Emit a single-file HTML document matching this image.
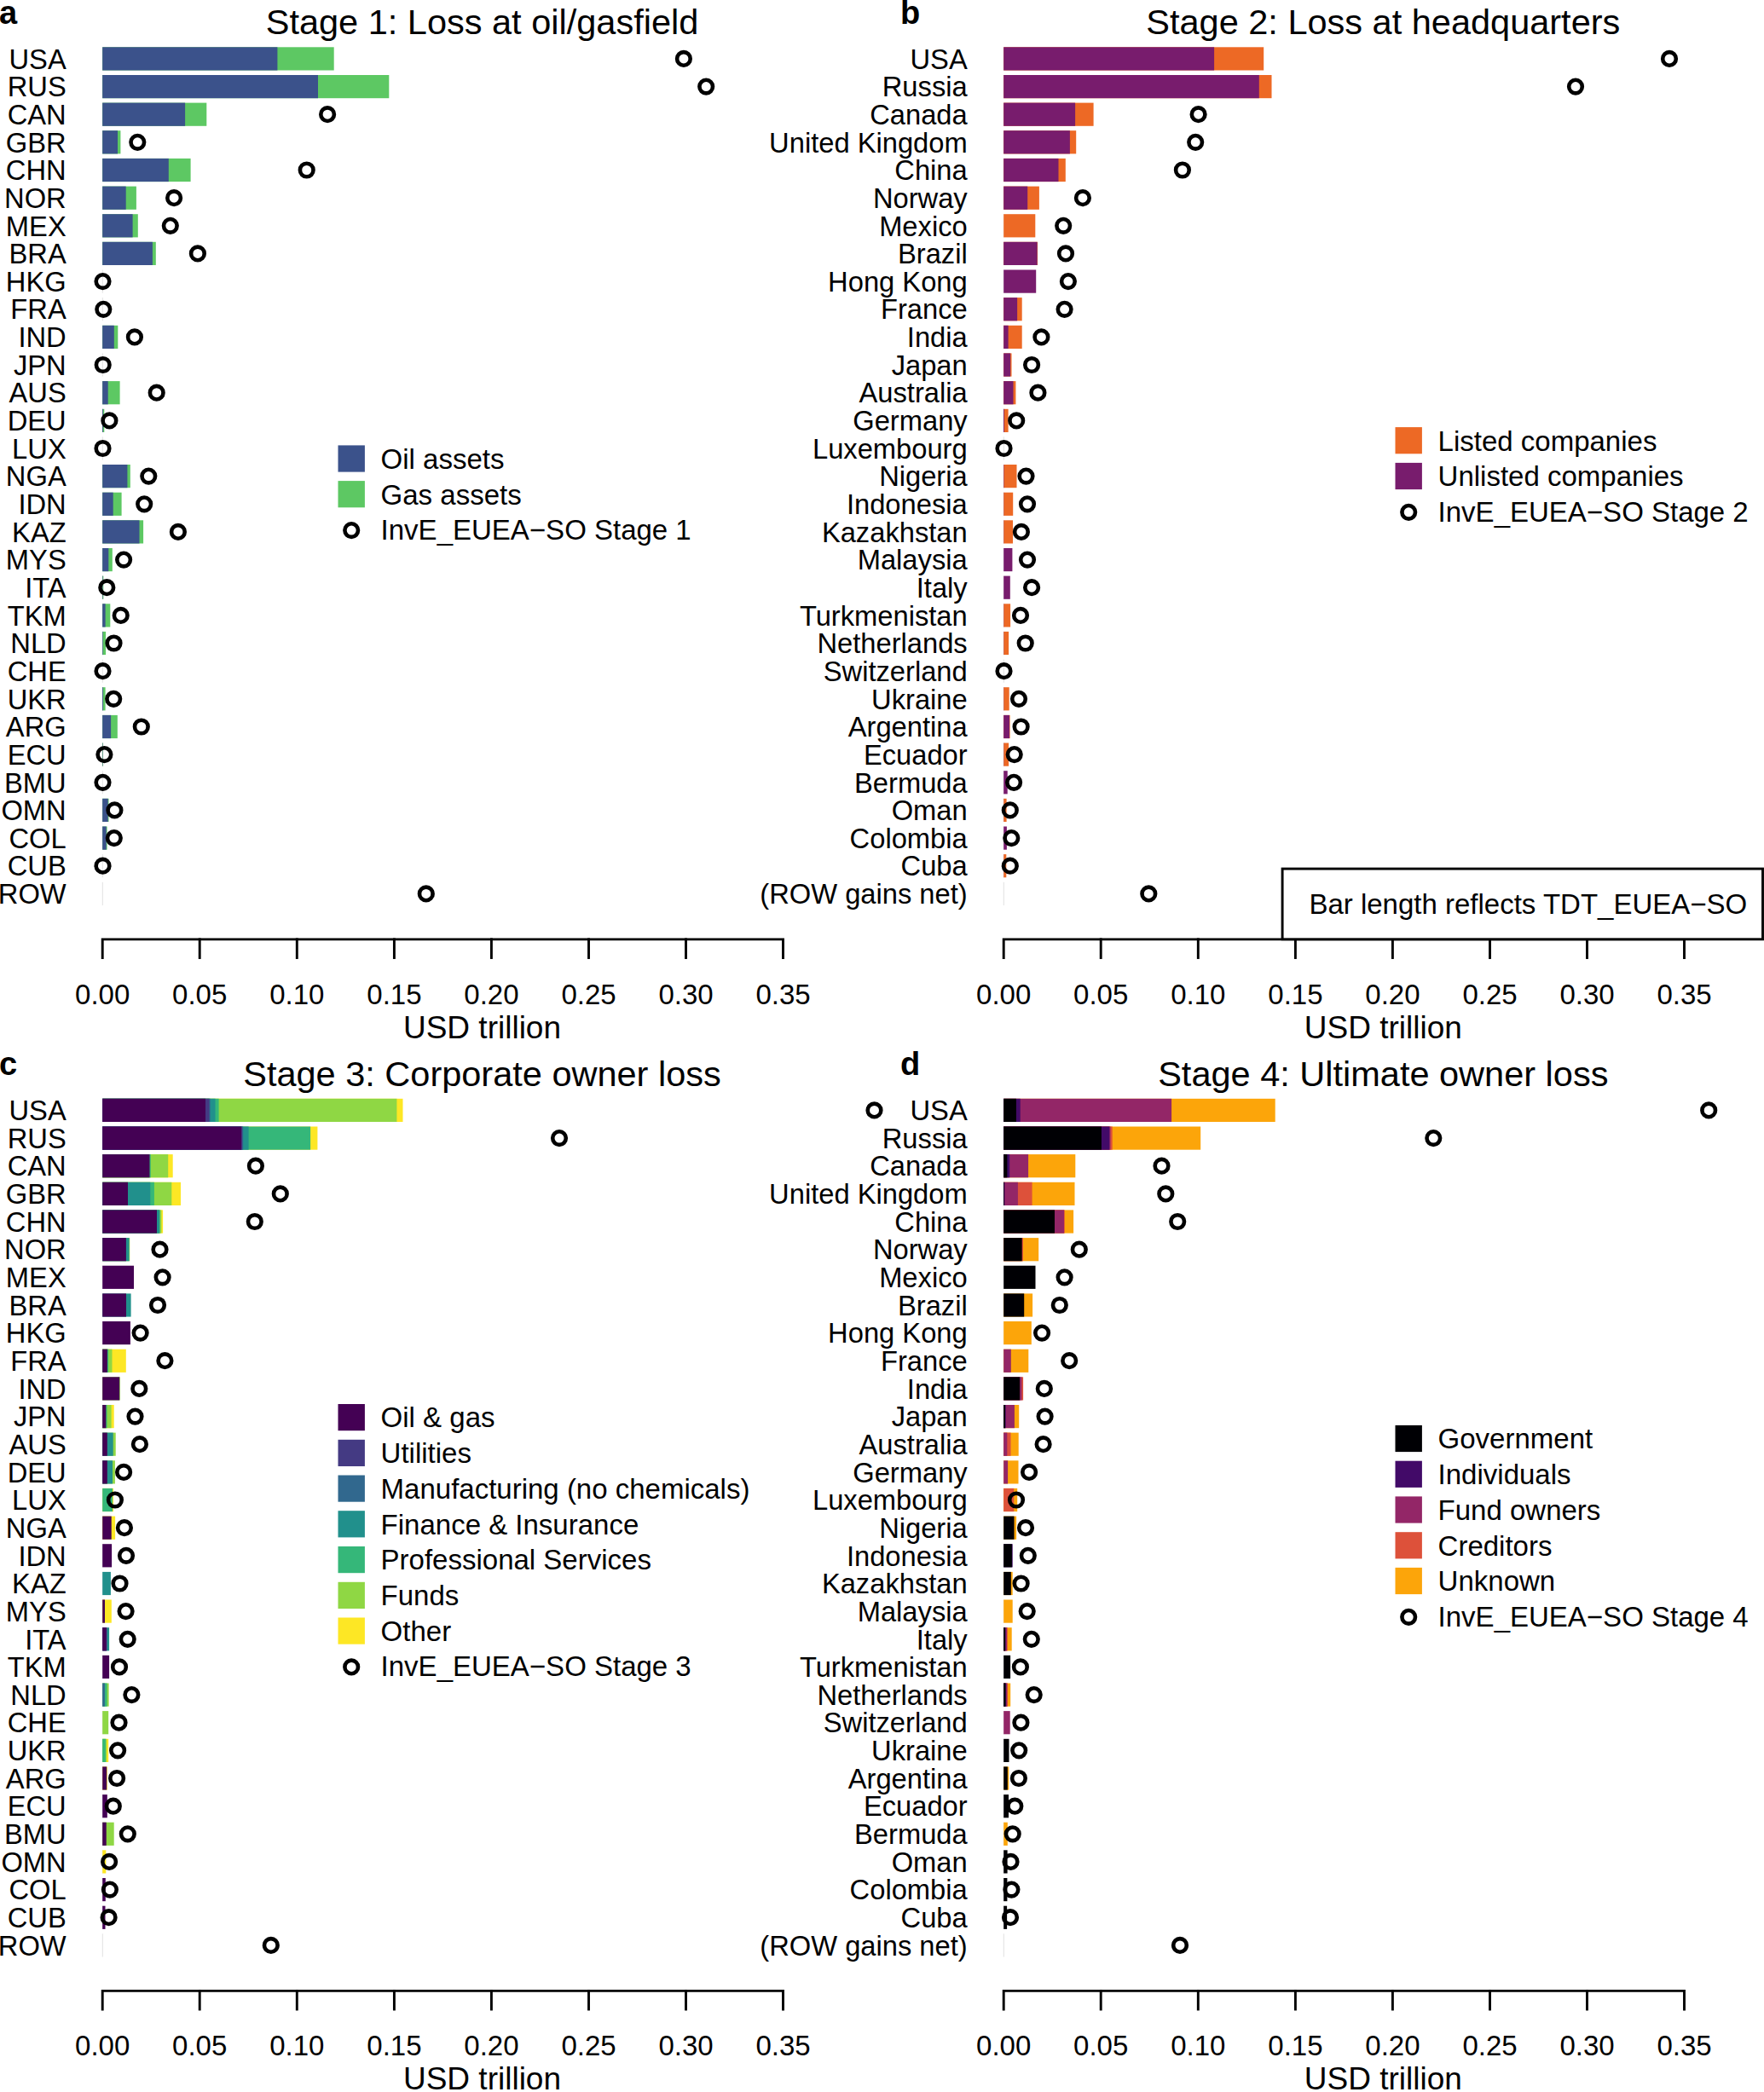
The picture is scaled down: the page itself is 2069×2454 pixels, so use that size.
<!DOCTYPE html>
<html><head><meta charset="utf-8"><title>Stranded assets by stage</title>
<style>
html,body{margin:0;padding:0;background:#fff}
svg{display:block}
text{font-family:"Liberation Sans",sans-serif;font-size:33px;fill:#000}
</style></head><body>
<svg width="2069" height="2454" viewBox="0 0 2069 2454">
<rect width="2069" height="2454" fill="#fff"/>
<text x="-1" y="27.5" style="font-size:38px;font-weight:bold">a</text>
<text x="565.5" y="40.0" style="font-size:41.5px" text-anchor="middle">Stage 1: Loss at oil/gasfield</text>
<text x="77.7" y="80.6" text-anchor="end" style="font-size:32.7px">USA</text>
<text x="77.7" y="113.3" text-anchor="end" style="font-size:32.7px">RUS</text>
<text x="77.7" y="145.9" text-anchor="end" style="font-size:32.7px">CAN</text>
<text x="77.7" y="178.5" text-anchor="end" style="font-size:32.7px">GBR</text>
<text x="77.7" y="211.2" text-anchor="end" style="font-size:32.7px">CHN</text>
<text x="77.7" y="243.8" text-anchor="end" style="font-size:32.7px">NOR</text>
<text x="77.7" y="276.5" text-anchor="end" style="font-size:32.7px">MEX</text>
<text x="77.7" y="309.1" text-anchor="end" style="font-size:32.7px">BRA</text>
<text x="77.7" y="341.8" text-anchor="end" style="font-size:32.7px">HKG</text>
<text x="77.7" y="374.4" text-anchor="end" style="font-size:32.7px">FRA</text>
<text x="77.7" y="407.1" text-anchor="end" style="font-size:32.7px">IND</text>
<text x="77.7" y="439.7" text-anchor="end" style="font-size:32.7px">JPN</text>
<text x="77.7" y="472.4" text-anchor="end" style="font-size:32.7px">AUS</text>
<text x="77.7" y="505.1" text-anchor="end" style="font-size:32.7px">DEU</text>
<text x="77.7" y="537.7" text-anchor="end" style="font-size:32.7px">LUX</text>
<text x="77.7" y="570.4" text-anchor="end" style="font-size:32.7px">NGA</text>
<text x="77.7" y="603.0" text-anchor="end" style="font-size:32.7px">IDN</text>
<text x="77.7" y="635.6" text-anchor="end" style="font-size:32.7px">KAZ</text>
<text x="77.7" y="668.3" text-anchor="end" style="font-size:32.7px">MYS</text>
<text x="77.7" y="701.0" text-anchor="end" style="font-size:32.7px">ITA</text>
<text x="77.7" y="733.6" text-anchor="end" style="font-size:32.7px">TKM</text>
<text x="77.7" y="766.2" text-anchor="end" style="font-size:32.7px">NLD</text>
<text x="77.7" y="798.9" text-anchor="end" style="font-size:32.7px">CHE</text>
<text x="77.7" y="831.5" text-anchor="end" style="font-size:32.7px">UKR</text>
<text x="77.7" y="864.2" text-anchor="end" style="font-size:32.7px">ARG</text>
<text x="77.7" y="896.9" text-anchor="end" style="font-size:32.7px">ECU</text>
<text x="77.7" y="929.5" text-anchor="end" style="font-size:32.7px">BMU</text>
<text x="77.7" y="962.1" text-anchor="end" style="font-size:32.7px">OMN</text>
<text x="77.7" y="994.8" text-anchor="end" style="font-size:32.7px">COL</text>
<text x="77.7" y="1027.4" text-anchor="end" style="font-size:32.7px">CUB</text>
<text x="77.7" y="1060.1" text-anchor="end" style="font-size:32.7px">ROW</text>
<rect x="119.85" y="55.3" width="0.7" height="27.2" fill="#d4d4d4"/>
<rect x="119.85" y="88.0" width="0.7" height="27.2" fill="#d4d4d4"/>
<rect x="119.85" y="120.6" width="0.7" height="27.2" fill="#d4d4d4"/>
<rect x="119.85" y="153.2" width="0.7" height="27.2" fill="#d4d4d4"/>
<rect x="119.85" y="185.9" width="0.7" height="27.2" fill="#d4d4d4"/>
<rect x="119.85" y="218.6" width="0.7" height="27.2" fill="#d4d4d4"/>
<rect x="119.85" y="251.2" width="0.7" height="27.2" fill="#d4d4d4"/>
<rect x="119.85" y="283.8" width="0.7" height="27.2" fill="#d4d4d4"/>
<rect x="119.85" y="316.5" width="0.7" height="27.2" fill="#d4d4d4"/>
<rect x="119.85" y="349.1" width="0.7" height="27.2" fill="#d4d4d4"/>
<rect x="119.85" y="381.8" width="0.7" height="27.2" fill="#d4d4d4"/>
<rect x="119.85" y="414.4" width="0.7" height="27.2" fill="#d4d4d4"/>
<rect x="119.85" y="447.1" width="0.7" height="27.2" fill="#d4d4d4"/>
<rect x="119.85" y="479.8" width="0.7" height="27.2" fill="#d4d4d4"/>
<rect x="119.85" y="512.4" width="0.7" height="27.2" fill="#d4d4d4"/>
<rect x="119.85" y="545.0" width="0.7" height="27.2" fill="#d4d4d4"/>
<rect x="119.85" y="577.7" width="0.7" height="27.2" fill="#d4d4d4"/>
<rect x="119.85" y="610.3" width="0.7" height="27.2" fill="#d4d4d4"/>
<rect x="119.85" y="643.0" width="0.7" height="27.2" fill="#d4d4d4"/>
<rect x="119.85" y="675.6" width="0.7" height="27.2" fill="#d4d4d4"/>
<rect x="119.85" y="708.3" width="0.7" height="27.2" fill="#d4d4d4"/>
<rect x="119.85" y="740.9" width="0.7" height="27.2" fill="#d4d4d4"/>
<rect x="119.85" y="773.6" width="0.7" height="27.2" fill="#d4d4d4"/>
<rect x="119.85" y="806.2" width="0.7" height="27.2" fill="#d4d4d4"/>
<rect x="119.85" y="838.9" width="0.7" height="27.2" fill="#d4d4d4"/>
<rect x="119.85" y="871.5" width="0.7" height="27.2" fill="#d4d4d4"/>
<rect x="119.85" y="904.2" width="0.7" height="27.2" fill="#d4d4d4"/>
<rect x="119.85" y="936.8" width="0.7" height="27.2" fill="#d4d4d4"/>
<rect x="119.85" y="969.5" width="0.7" height="27.2" fill="#d4d4d4"/>
<rect x="119.85" y="1002.1" width="0.7" height="27.2" fill="#d4d4d4"/>
<rect x="119.85" y="1034.8" width="0.7" height="27.2" fill="#d4d4d4"/>
<rect x="120.2" y="55.3" width="271.5" height="27.2" fill="#5DC863"/>
<rect x="120.2" y="55.3" width="205.2" height="27.2" fill="#3B528B"/>
<rect x="120.2" y="88.0" width="336.1" height="27.2" fill="#5DC863"/>
<rect x="120.2" y="88.0" width="252.8" height="27.2" fill="#3B528B"/>
<rect x="120.2" y="120.6" width="122.1" height="27.2" fill="#5DC863"/>
<rect x="120.2" y="120.6" width="96.9" height="27.2" fill="#3B528B"/>
<rect x="120.2" y="153.2" width="21.2" height="27.2" fill="#5DC863"/>
<rect x="120.2" y="153.2" width="17.8" height="27.2" fill="#3B528B"/>
<rect x="120.2" y="185.9" width="103.4" height="27.2" fill="#5DC863"/>
<rect x="120.2" y="185.9" width="77.6" height="27.2" fill="#3B528B"/>
<rect x="120.2" y="218.6" width="39.7" height="27.2" fill="#5DC863"/>
<rect x="120.2" y="218.6" width="27.5" height="27.2" fill="#3B528B"/>
<rect x="120.2" y="251.2" width="41.6" height="27.2" fill="#5DC863"/>
<rect x="120.2" y="251.2" width="35.4" height="27.2" fill="#3B528B"/>
<rect x="120.2" y="283.8" width="62.6" height="27.2" fill="#5DC863"/>
<rect x="120.2" y="283.8" width="58.7" height="27.2" fill="#3B528B"/>
<rect x="120.2" y="381.8" width="18.1" height="27.2" fill="#5DC863"/>
<rect x="120.2" y="381.8" width="13.6" height="27.2" fill="#3B528B"/>
<rect x="120.2" y="447.1" width="20.4" height="27.2" fill="#5DC863"/>
<rect x="120.2" y="447.1" width="6.5" height="27.2" fill="#3B528B"/>
<rect x="120.2" y="479.8" width="2.1" height="27.2" fill="#5DC863"/>
<rect x="120.2" y="479.8" width="0.8" height="27.2" fill="#3B528B"/>
<rect x="120.2" y="545.0" width="32.6" height="27.2" fill="#5DC863"/>
<rect x="120.2" y="545.0" width="29.2" height="27.2" fill="#3B528B"/>
<rect x="120.2" y="577.7" width="22.4" height="27.2" fill="#5DC863"/>
<rect x="120.2" y="577.7" width="12.5" height="27.2" fill="#3B528B"/>
<rect x="120.2" y="610.3" width="47.9" height="27.2" fill="#5DC863"/>
<rect x="120.2" y="610.3" width="43.3" height="27.2" fill="#3B528B"/>
<rect x="120.2" y="643.0" width="11.6" height="27.2" fill="#5DC863"/>
<rect x="120.2" y="643.0" width="7.1" height="27.2" fill="#3B528B"/>
<rect x="120.2" y="675.6" width="1.1" height="27.2" fill="#5DC863"/>
<rect x="120.2" y="675.6" width="0.5" height="27.2" fill="#3B528B"/>
<rect x="120.2" y="708.3" width="9.1" height="27.2" fill="#5DC863"/>
<rect x="120.2" y="708.3" width="3.4" height="27.2" fill="#3B528B"/>
<rect x="120.2" y="740.9" width="3.9" height="27.2" fill="#5DC863"/>
<rect x="120.2" y="740.9" width="0.6" height="27.2" fill="#3B528B"/>
<rect x="120.2" y="806.2" width="3.4" height="27.2" fill="#5DC863"/>
<rect x="120.2" y="806.2" width="0.8" height="27.2" fill="#3B528B"/>
<rect x="120.2" y="838.9" width="17.6" height="27.2" fill="#5DC863"/>
<rect x="120.2" y="838.9" width="9.9" height="27.2" fill="#3B528B"/>
<rect x="120.2" y="871.5" width="0.7" height="27.2" fill="#5DC863"/>
<rect x="120.2" y="871.5" width="0.4" height="27.2" fill="#3B528B"/>
<rect x="120.2" y="936.8" width="7.3" height="27.2" fill="#5DC863"/>
<rect x="120.2" y="936.8" width="6.5" height="27.2" fill="#3B528B"/>
<rect x="120.2" y="969.5" width="5.4" height="27.2" fill="#5DC863"/>
<rect x="120.2" y="969.5" width="4.5" height="27.2" fill="#3B528B"/>
<circle cx="801.9" cy="68.9" r="7.8" fill="none" stroke="#000" stroke-width="4.6"/>
<circle cx="828.2" cy="101.6" r="7.8" fill="none" stroke="#000" stroke-width="4.6"/>
<circle cx="384.1" cy="134.2" r="7.8" fill="none" stroke="#000" stroke-width="4.6"/>
<circle cx="161.3" cy="166.8" r="7.8" fill="none" stroke="#000" stroke-width="4.6"/>
<circle cx="359.7" cy="199.5" r="7.8" fill="none" stroke="#000" stroke-width="4.6"/>
<circle cx="204.1" cy="232.2" r="7.8" fill="none" stroke="#000" stroke-width="4.6"/>
<circle cx="199.8" cy="264.8" r="7.8" fill="none" stroke="#000" stroke-width="4.6"/>
<circle cx="231.9" cy="297.4" r="7.8" fill="none" stroke="#000" stroke-width="4.6"/>
<circle cx="120.5" cy="330.1" r="7.8" fill="none" stroke="#000" stroke-width="4.6"/>
<circle cx="121.3" cy="362.8" r="7.8" fill="none" stroke="#000" stroke-width="4.6"/>
<circle cx="157.9" cy="395.4" r="7.8" fill="none" stroke="#000" stroke-width="4.6"/>
<circle cx="120.7" cy="428.0" r="7.8" fill="none" stroke="#000" stroke-width="4.6"/>
<circle cx="183.7" cy="460.7" r="7.8" fill="none" stroke="#000" stroke-width="4.6"/>
<circle cx="128.4" cy="493.4" r="7.8" fill="none" stroke="#000" stroke-width="4.6"/>
<circle cx="120.5" cy="526.0" r="7.8" fill="none" stroke="#000" stroke-width="4.6"/>
<circle cx="174.3" cy="558.6" r="7.8" fill="none" stroke="#000" stroke-width="4.6"/>
<circle cx="169.2" cy="591.3" r="7.8" fill="none" stroke="#000" stroke-width="4.6"/>
<circle cx="208.9" cy="623.9" r="7.8" fill="none" stroke="#000" stroke-width="4.6"/>
<circle cx="145.1" cy="656.6" r="7.8" fill="none" stroke="#000" stroke-width="4.6"/>
<circle cx="125.3" cy="689.2" r="7.8" fill="none" stroke="#000" stroke-width="4.6"/>
<circle cx="141.7" cy="721.9" r="7.8" fill="none" stroke="#000" stroke-width="4.6"/>
<circle cx="133.5" cy="754.5" r="7.8" fill="none" stroke="#000" stroke-width="4.6"/>
<circle cx="120.5" cy="787.2" r="7.8" fill="none" stroke="#000" stroke-width="4.6"/>
<circle cx="133.2" cy="819.8" r="7.8" fill="none" stroke="#000" stroke-width="4.6"/>
<circle cx="165.8" cy="852.5" r="7.8" fill="none" stroke="#000" stroke-width="4.6"/>
<circle cx="122.4" cy="885.1" r="7.8" fill="none" stroke="#000" stroke-width="4.6"/>
<circle cx="120.5" cy="917.8" r="7.8" fill="none" stroke="#000" stroke-width="4.6"/>
<circle cx="134.4" cy="950.4" r="7.8" fill="none" stroke="#000" stroke-width="4.6"/>
<circle cx="133.8" cy="983.1" r="7.8" fill="none" stroke="#000" stroke-width="4.6"/>
<circle cx="120.5" cy="1015.7" r="7.8" fill="none" stroke="#000" stroke-width="4.6"/>
<circle cx="499.8" cy="1048.4" r="7.8" fill="none" stroke="#000" stroke-width="4.6"/>
<path d="M120.2 1123.5V1101.9H918.5V1123.5" fill="none" stroke="#000" stroke-width="2.9" stroke-linecap="square"/>
<text x="120.2" y="1177.5" text-anchor="middle">0.00</text>
<path d="M234.2 1101.9V1123.5" stroke="#000" stroke-width="2.9" stroke-linecap="square"/>
<text x="234.2" y="1177.5" text-anchor="middle">0.05</text>
<path d="M348.3 1101.9V1123.5" stroke="#000" stroke-width="2.9" stroke-linecap="square"/>
<text x="348.3" y="1177.5" text-anchor="middle">0.10</text>
<path d="M462.4 1101.9V1123.5" stroke="#000" stroke-width="2.9" stroke-linecap="square"/>
<text x="462.4" y="1177.5" text-anchor="middle">0.15</text>
<path d="M576.4 1101.9V1123.5" stroke="#000" stroke-width="2.9" stroke-linecap="square"/>
<text x="576.4" y="1177.5" text-anchor="middle">0.20</text>
<path d="M690.5 1101.9V1123.5" stroke="#000" stroke-width="2.9" stroke-linecap="square"/>
<text x="690.5" y="1177.5" text-anchor="middle">0.25</text>
<path d="M804.5 1101.9V1123.5" stroke="#000" stroke-width="2.9" stroke-linecap="square"/>
<text x="804.5" y="1177.5" text-anchor="middle">0.30</text>
<text x="918.6" y="1177.5" text-anchor="middle">0.35</text>
<text x="565.5" y="1217.7" text-anchor="middle" style="font-size:37px">USD trillion</text>
<text x="1056.0" y="27.5" style="font-size:38px;font-weight:bold">b</text>
<text x="1622.3" y="40.0" style="font-size:41.5px" text-anchor="middle">Stage 2: Loss at headquarters</text>
<text x="1134.7" y="80.6" text-anchor="end" style="font-size:32.7px">USA</text>
<text x="1134.7" y="113.3" text-anchor="end" style="font-size:32.7px">Russia</text>
<text x="1134.7" y="145.9" text-anchor="end" style="font-size:32.7px">Canada</text>
<text x="1134.7" y="178.5" text-anchor="end" style="font-size:32.7px">United Kingdom</text>
<text x="1134.7" y="211.2" text-anchor="end" style="font-size:32.7px">China</text>
<text x="1134.7" y="243.8" text-anchor="end" style="font-size:32.7px">Norway</text>
<text x="1134.7" y="276.5" text-anchor="end" style="font-size:32.7px">Mexico</text>
<text x="1134.7" y="309.1" text-anchor="end" style="font-size:32.7px">Brazil</text>
<text x="1134.7" y="341.8" text-anchor="end" style="font-size:32.7px">Hong Kong</text>
<text x="1134.7" y="374.4" text-anchor="end" style="font-size:32.7px">France</text>
<text x="1134.7" y="407.1" text-anchor="end" style="font-size:32.7px">India</text>
<text x="1134.7" y="439.7" text-anchor="end" style="font-size:32.7px">Japan</text>
<text x="1134.7" y="472.4" text-anchor="end" style="font-size:32.7px">Australia</text>
<text x="1134.7" y="505.1" text-anchor="end" style="font-size:32.7px">Germany</text>
<text x="1134.7" y="537.7" text-anchor="end" style="font-size:32.7px">Luxembourg</text>
<text x="1134.7" y="570.4" text-anchor="end" style="font-size:32.7px">Nigeria</text>
<text x="1134.7" y="603.0" text-anchor="end" style="font-size:32.7px">Indonesia</text>
<text x="1134.7" y="635.6" text-anchor="end" style="font-size:32.7px">Kazakhstan</text>
<text x="1134.7" y="668.3" text-anchor="end" style="font-size:32.7px">Malaysia</text>
<text x="1134.7" y="701.0" text-anchor="end" style="font-size:32.7px">Italy</text>
<text x="1134.7" y="733.6" text-anchor="end" style="font-size:32.7px">Turkmenistan</text>
<text x="1134.7" y="766.2" text-anchor="end" style="font-size:32.7px">Netherlands</text>
<text x="1134.7" y="798.9" text-anchor="end" style="font-size:32.7px">Switzerland</text>
<text x="1134.7" y="831.5" text-anchor="end" style="font-size:32.7px">Ukraine</text>
<text x="1134.7" y="864.2" text-anchor="end" style="font-size:32.7px">Argentina</text>
<text x="1134.7" y="896.9" text-anchor="end" style="font-size:32.7px">Ecuador</text>
<text x="1134.7" y="929.5" text-anchor="end" style="font-size:32.7px">Bermuda</text>
<text x="1134.7" y="962.1" text-anchor="end" style="font-size:32.7px">Oman</text>
<text x="1134.7" y="994.8" text-anchor="end" style="font-size:32.7px">Colombia</text>
<text x="1134.7" y="1027.4" text-anchor="end" style="font-size:32.7px">Cuba</text>
<text x="1134.7" y="1060.1" text-anchor="end" style="font-size:32.7px">(ROW gains net)</text>
<rect x="1176.85" y="55.3" width="0.7" height="27.2" fill="#d4d4d4"/>
<rect x="1176.85" y="88.0" width="0.7" height="27.2" fill="#d4d4d4"/>
<rect x="1176.85" y="120.6" width="0.7" height="27.2" fill="#d4d4d4"/>
<rect x="1176.85" y="153.2" width="0.7" height="27.2" fill="#d4d4d4"/>
<rect x="1176.85" y="185.9" width="0.7" height="27.2" fill="#d4d4d4"/>
<rect x="1176.85" y="218.6" width="0.7" height="27.2" fill="#d4d4d4"/>
<rect x="1176.85" y="251.2" width="0.7" height="27.2" fill="#d4d4d4"/>
<rect x="1176.85" y="283.8" width="0.7" height="27.2" fill="#d4d4d4"/>
<rect x="1176.85" y="316.5" width="0.7" height="27.2" fill="#d4d4d4"/>
<rect x="1176.85" y="349.1" width="0.7" height="27.2" fill="#d4d4d4"/>
<rect x="1176.85" y="381.8" width="0.7" height="27.2" fill="#d4d4d4"/>
<rect x="1176.85" y="414.4" width="0.7" height="27.2" fill="#d4d4d4"/>
<rect x="1176.85" y="447.1" width="0.7" height="27.2" fill="#d4d4d4"/>
<rect x="1176.85" y="479.8" width="0.7" height="27.2" fill="#d4d4d4"/>
<rect x="1176.85" y="512.4" width="0.7" height="27.2" fill="#d4d4d4"/>
<rect x="1176.85" y="545.0" width="0.7" height="27.2" fill="#d4d4d4"/>
<rect x="1176.85" y="577.7" width="0.7" height="27.2" fill="#d4d4d4"/>
<rect x="1176.85" y="610.3" width="0.7" height="27.2" fill="#d4d4d4"/>
<rect x="1176.85" y="643.0" width="0.7" height="27.2" fill="#d4d4d4"/>
<rect x="1176.85" y="675.6" width="0.7" height="27.2" fill="#d4d4d4"/>
<rect x="1176.85" y="708.3" width="0.7" height="27.2" fill="#d4d4d4"/>
<rect x="1176.85" y="740.9" width="0.7" height="27.2" fill="#d4d4d4"/>
<rect x="1176.85" y="773.6" width="0.7" height="27.2" fill="#d4d4d4"/>
<rect x="1176.85" y="806.2" width="0.7" height="27.2" fill="#d4d4d4"/>
<rect x="1176.85" y="838.9" width="0.7" height="27.2" fill="#d4d4d4"/>
<rect x="1176.85" y="871.5" width="0.7" height="27.2" fill="#d4d4d4"/>
<rect x="1176.85" y="904.2" width="0.7" height="27.2" fill="#d4d4d4"/>
<rect x="1176.85" y="936.8" width="0.7" height="27.2" fill="#d4d4d4"/>
<rect x="1176.85" y="969.5" width="0.7" height="27.2" fill="#d4d4d4"/>
<rect x="1176.85" y="1002.1" width="0.7" height="27.2" fill="#d4d4d4"/>
<rect x="1176.85" y="1034.8" width="0.7" height="27.2" fill="#d4d4d4"/>
<rect x="1177.2" y="55.3" width="305.0" height="27.2" fill="#ED6925"/>
<rect x="1177.2" y="55.3" width="246.9" height="27.2" fill="#781C6D"/>
<rect x="1177.2" y="88.0" width="314.3" height="27.2" fill="#ED6925"/>
<rect x="1177.2" y="88.0" width="299.6" height="27.2" fill="#781C6D"/>
<rect x="1177.2" y="120.6" width="105.4" height="27.2" fill="#ED6925"/>
<rect x="1177.2" y="120.6" width="83.9" height="27.2" fill="#781C6D"/>
<rect x="1177.2" y="153.2" width="85.0" height="27.2" fill="#ED6925"/>
<rect x="1177.2" y="153.2" width="77.7" height="27.2" fill="#781C6D"/>
<rect x="1177.2" y="185.9" width="72.6" height="27.2" fill="#ED6925"/>
<rect x="1177.2" y="185.9" width="64.3" height="27.2" fill="#781C6D"/>
<rect x="1177.2" y="218.6" width="41.7" height="27.2" fill="#ED6925"/>
<rect x="1177.2" y="218.6" width="28.0" height="27.2" fill="#781C6D"/>
<rect x="1177.2" y="251.2" width="37.1" height="27.2" fill="#ED6925"/>
<rect x="1177.2" y="283.8" width="39.8" height="27.2" fill="#ED6925"/>
<rect x="1177.2" y="283.8" width="39.4" height="27.2" fill="#781C6D"/>
<rect x="1177.2" y="316.5" width="38.0" height="27.2" fill="#781C6D"/>
<rect x="1177.2" y="349.1" width="21.5" height="27.2" fill="#ED6925"/>
<rect x="1177.2" y="349.1" width="15.9" height="27.2" fill="#781C6D"/>
<rect x="1177.2" y="381.8" width="21.5" height="27.2" fill="#ED6925"/>
<rect x="1177.2" y="381.8" width="5.4" height="27.2" fill="#781C6D"/>
<rect x="1177.2" y="414.4" width="9.3" height="27.2" fill="#ED6925"/>
<rect x="1177.2" y="414.4" width="7.9" height="27.2" fill="#781C6D"/>
<rect x="1177.2" y="447.1" width="14.2" height="27.2" fill="#ED6925"/>
<rect x="1177.2" y="447.1" width="11.3" height="27.2" fill="#781C6D"/>
<rect x="1177.2" y="479.8" width="5.4" height="27.2" fill="#ED6925"/>
<rect x="1177.2" y="479.8" width="0.8" height="27.2" fill="#781C6D"/>
<rect x="1177.2" y="545.0" width="15.3" height="27.2" fill="#ED6925"/>
<rect x="1177.2" y="545.0" width="0.4" height="27.2" fill="#781C6D"/>
<rect x="1177.2" y="577.7" width="11.0" height="27.2" fill="#ED6925"/>
<rect x="1177.2" y="577.7" width="0.2" height="27.2" fill="#781C6D"/>
<rect x="1177.2" y="610.3" width="10.8" height="27.2" fill="#ED6925"/>
<rect x="1177.2" y="610.3" width="0.2" height="27.2" fill="#781C6D"/>
<rect x="1177.2" y="643.0" width="10.2" height="27.2" fill="#781C6D"/>
<rect x="1177.2" y="675.6" width="7.6" height="27.2" fill="#781C6D"/>
<rect x="1177.2" y="708.3" width="7.9" height="27.2" fill="#ED6925"/>
<rect x="1177.2" y="708.3" width="0.2" height="27.2" fill="#781C6D"/>
<rect x="1177.2" y="740.9" width="5.9" height="27.2" fill="#ED6925"/>
<rect x="1177.2" y="740.9" width="0.2" height="27.2" fill="#781C6D"/>
<rect x="1177.2" y="806.2" width="6.5" height="27.2" fill="#ED6925"/>
<rect x="1177.2" y="806.2" width="0.2" height="27.2" fill="#781C6D"/>
<rect x="1177.2" y="838.9" width="7.4" height="27.2" fill="#ED6925"/>
<rect x="1177.2" y="838.9" width="6.8" height="27.2" fill="#781C6D"/>
<rect x="1177.2" y="871.5" width="5.9" height="27.2" fill="#ED6925"/>
<rect x="1177.2" y="871.5" width="0.2" height="27.2" fill="#781C6D"/>
<rect x="1177.2" y="904.2" width="4.5" height="27.2" fill="#781C6D"/>
<rect x="1177.2" y="936.8" width="3.4" height="27.2" fill="#ED6925"/>
<rect x="1177.2" y="936.8" width="0.1" height="27.2" fill="#781C6D"/>
<rect x="1177.2" y="969.5" width="3.7" height="27.2" fill="#781C6D"/>
<rect x="1177.2" y="1002.1" width="3.1" height="27.2" fill="#ED6925"/>
<rect x="1177.2" y="1002.1" width="0.1" height="27.2" fill="#781C6D"/>
<circle cx="1958.0" cy="68.9" r="7.8" fill="none" stroke="#000" stroke-width="4.6"/>
<circle cx="1848.0" cy="101.6" r="7.8" fill="none" stroke="#000" stroke-width="4.6"/>
<circle cx="1405.6" cy="134.2" r="7.8" fill="none" stroke="#000" stroke-width="4.6"/>
<circle cx="1402.2" cy="166.8" r="7.8" fill="none" stroke="#000" stroke-width="4.6"/>
<circle cx="1386.9" cy="199.5" r="7.8" fill="none" stroke="#000" stroke-width="4.6"/>
<circle cx="1269.9" cy="232.2" r="7.8" fill="none" stroke="#000" stroke-width="4.6"/>
<circle cx="1247.2" cy="264.8" r="7.8" fill="none" stroke="#000" stroke-width="4.6"/>
<circle cx="1250.0" cy="297.4" r="7.8" fill="none" stroke="#000" stroke-width="4.6"/>
<circle cx="1252.9" cy="330.1" r="7.8" fill="none" stroke="#000" stroke-width="4.6"/>
<circle cx="1248.6" cy="362.8" r="7.8" fill="none" stroke="#000" stroke-width="4.6"/>
<circle cx="1221.4" cy="395.4" r="7.8" fill="none" stroke="#000" stroke-width="4.6"/>
<circle cx="1210.1" cy="428.0" r="7.8" fill="none" stroke="#000" stroke-width="4.6"/>
<circle cx="1217.4" cy="460.7" r="7.8" fill="none" stroke="#000" stroke-width="4.6"/>
<circle cx="1192.2" cy="493.4" r="7.8" fill="none" stroke="#000" stroke-width="4.6"/>
<circle cx="1177.5" cy="526.0" r="7.8" fill="none" stroke="#000" stroke-width="4.6"/>
<circle cx="1203.5" cy="558.6" r="7.8" fill="none" stroke="#000" stroke-width="4.6"/>
<circle cx="1205.0" cy="591.3" r="7.8" fill="none" stroke="#000" stroke-width="4.6"/>
<circle cx="1197.9" cy="623.9" r="7.8" fill="none" stroke="#000" stroke-width="4.6"/>
<circle cx="1205.0" cy="656.6" r="7.8" fill="none" stroke="#000" stroke-width="4.6"/>
<circle cx="1210.1" cy="689.2" r="7.8" fill="none" stroke="#000" stroke-width="4.6"/>
<circle cx="1197.0" cy="721.9" r="7.8" fill="none" stroke="#000" stroke-width="4.6"/>
<circle cx="1202.7" cy="754.5" r="7.8" fill="none" stroke="#000" stroke-width="4.6"/>
<circle cx="1177.5" cy="787.2" r="7.8" fill="none" stroke="#000" stroke-width="4.6"/>
<circle cx="1195.0" cy="819.8" r="7.8" fill="none" stroke="#000" stroke-width="4.6"/>
<circle cx="1197.6" cy="852.5" r="7.8" fill="none" stroke="#000" stroke-width="4.6"/>
<circle cx="1189.7" cy="885.1" r="7.8" fill="none" stroke="#000" stroke-width="4.6"/>
<circle cx="1189.1" cy="917.8" r="7.8" fill="none" stroke="#000" stroke-width="4.6"/>
<circle cx="1184.8" cy="950.4" r="7.8" fill="none" stroke="#000" stroke-width="4.6"/>
<circle cx="1186.3" cy="983.1" r="7.8" fill="none" stroke="#000" stroke-width="4.6"/>
<circle cx="1184.8" cy="1015.7" r="7.8" fill="none" stroke="#000" stroke-width="4.6"/>
<circle cx="1347.3" cy="1048.4" r="7.8" fill="none" stroke="#000" stroke-width="4.6"/>
<path d="M1177.2 1123.5V1101.9H1975.5V1123.5" fill="none" stroke="#000" stroke-width="2.9" stroke-linecap="square"/>
<text x="1177.2" y="1177.5" text-anchor="middle">0.00</text>
<path d="M1291.2 1101.9V1123.5" stroke="#000" stroke-width="2.9" stroke-linecap="square"/>
<text x="1291.2" y="1177.5" text-anchor="middle">0.05</text>
<path d="M1405.3 1101.9V1123.5" stroke="#000" stroke-width="2.9" stroke-linecap="square"/>
<text x="1405.3" y="1177.5" text-anchor="middle">0.10</text>
<path d="M1519.4 1101.9V1123.5" stroke="#000" stroke-width="2.9" stroke-linecap="square"/>
<text x="1519.4" y="1177.5" text-anchor="middle">0.15</text>
<path d="M1633.4 1101.9V1123.5" stroke="#000" stroke-width="2.9" stroke-linecap="square"/>
<text x="1633.4" y="1177.5" text-anchor="middle">0.20</text>
<path d="M1747.5 1101.9V1123.5" stroke="#000" stroke-width="2.9" stroke-linecap="square"/>
<text x="1747.5" y="1177.5" text-anchor="middle">0.25</text>
<path d="M1861.5 1101.9V1123.5" stroke="#000" stroke-width="2.9" stroke-linecap="square"/>
<text x="1861.5" y="1177.5" text-anchor="middle">0.30</text>
<text x="1975.6" y="1177.5" text-anchor="middle">0.35</text>
<text x="1622.3" y="1217.7" text-anchor="middle" style="font-size:37px">USD trillion</text>
<text x="-1" y="1261.0" style="font-size:38px;font-weight:bold">c</text>
<text x="565.5" y="1273.5" style="font-size:41.5px" text-anchor="middle">Stage 3: Corporate owner loss</text>
<text x="77.7" y="1314.1" text-anchor="end" style="font-size:32.7px">USA</text>
<text x="77.7" y="1346.8" text-anchor="end" style="font-size:32.7px">RUS</text>
<text x="77.7" y="1379.4" text-anchor="end" style="font-size:32.7px">CAN</text>
<text x="77.7" y="1412.1" text-anchor="end" style="font-size:32.7px">GBR</text>
<text x="77.7" y="1444.7" text-anchor="end" style="font-size:32.7px">CHN</text>
<text x="77.7" y="1477.4" text-anchor="end" style="font-size:32.7px">NOR</text>
<text x="77.7" y="1510.0" text-anchor="end" style="font-size:32.7px">MEX</text>
<text x="77.7" y="1542.7" text-anchor="end" style="font-size:32.7px">BRA</text>
<text x="77.7" y="1575.3" text-anchor="end" style="font-size:32.7px">HKG</text>
<text x="77.7" y="1608.0" text-anchor="end" style="font-size:32.7px">FRA</text>
<text x="77.7" y="1640.6" text-anchor="end" style="font-size:32.7px">IND</text>
<text x="77.7" y="1673.3" text-anchor="end" style="font-size:32.7px">JPN</text>
<text x="77.7" y="1705.9" text-anchor="end" style="font-size:32.7px">AUS</text>
<text x="77.7" y="1738.6" text-anchor="end" style="font-size:32.7px">DEU</text>
<text x="77.7" y="1771.2" text-anchor="end" style="font-size:32.7px">LUX</text>
<text x="77.7" y="1803.9" text-anchor="end" style="font-size:32.7px">NGA</text>
<text x="77.7" y="1836.5" text-anchor="end" style="font-size:32.7px">IDN</text>
<text x="77.7" y="1869.2" text-anchor="end" style="font-size:32.7px">KAZ</text>
<text x="77.7" y="1901.8" text-anchor="end" style="font-size:32.7px">MYS</text>
<text x="77.7" y="1934.5" text-anchor="end" style="font-size:32.7px">ITA</text>
<text x="77.7" y="1967.1" text-anchor="end" style="font-size:32.7px">TKM</text>
<text x="77.7" y="1999.8" text-anchor="end" style="font-size:32.7px">NLD</text>
<text x="77.7" y="2032.4" text-anchor="end" style="font-size:32.7px">CHE</text>
<text x="77.7" y="2065.0" text-anchor="end" style="font-size:32.7px">UKR</text>
<text x="77.7" y="2097.7" text-anchor="end" style="font-size:32.7px">ARG</text>
<text x="77.7" y="2130.3" text-anchor="end" style="font-size:32.7px">ECU</text>
<text x="77.7" y="2163.0" text-anchor="end" style="font-size:32.7px">BMU</text>
<text x="77.7" y="2195.6" text-anchor="end" style="font-size:32.7px">OMN</text>
<text x="77.7" y="2228.3" text-anchor="end" style="font-size:32.7px">COL</text>
<text x="77.7" y="2260.9" text-anchor="end" style="font-size:32.7px">CUB</text>
<text x="77.7" y="2293.6" text-anchor="end" style="font-size:32.7px">ROW</text>
<rect x="119.85" y="1288.8" width="0.7" height="27.2" fill="#d4d4d4"/>
<rect x="119.85" y="1321.5" width="0.7" height="27.2" fill="#d4d4d4"/>
<rect x="119.85" y="1354.1" width="0.7" height="27.2" fill="#d4d4d4"/>
<rect x="119.85" y="1386.8" width="0.7" height="27.2" fill="#d4d4d4"/>
<rect x="119.85" y="1419.4" width="0.7" height="27.2" fill="#d4d4d4"/>
<rect x="119.85" y="1452.1" width="0.7" height="27.2" fill="#d4d4d4"/>
<rect x="119.85" y="1484.7" width="0.7" height="27.2" fill="#d4d4d4"/>
<rect x="119.85" y="1517.4" width="0.7" height="27.2" fill="#d4d4d4"/>
<rect x="119.85" y="1550.0" width="0.7" height="27.2" fill="#d4d4d4"/>
<rect x="119.85" y="1582.7" width="0.7" height="27.2" fill="#d4d4d4"/>
<rect x="119.85" y="1615.3" width="0.7" height="27.2" fill="#d4d4d4"/>
<rect x="119.85" y="1648.0" width="0.7" height="27.2" fill="#d4d4d4"/>
<rect x="119.85" y="1680.6" width="0.7" height="27.2" fill="#d4d4d4"/>
<rect x="119.85" y="1713.3" width="0.7" height="27.2" fill="#d4d4d4"/>
<rect x="119.85" y="1745.9" width="0.7" height="27.2" fill="#d4d4d4"/>
<rect x="119.85" y="1778.6" width="0.7" height="27.2" fill="#d4d4d4"/>
<rect x="119.85" y="1811.2" width="0.7" height="27.2" fill="#d4d4d4"/>
<rect x="119.85" y="1843.9" width="0.7" height="27.2" fill="#d4d4d4"/>
<rect x="119.85" y="1876.5" width="0.7" height="27.2" fill="#d4d4d4"/>
<rect x="119.85" y="1909.2" width="0.7" height="27.2" fill="#d4d4d4"/>
<rect x="119.85" y="1941.8" width="0.7" height="27.2" fill="#d4d4d4"/>
<rect x="119.85" y="1974.5" width="0.7" height="27.2" fill="#d4d4d4"/>
<rect x="119.85" y="2007.1" width="0.7" height="27.2" fill="#d4d4d4"/>
<rect x="119.85" y="2039.8" width="0.7" height="27.2" fill="#d4d4d4"/>
<rect x="119.85" y="2072.4" width="0.7" height="27.2" fill="#d4d4d4"/>
<rect x="119.85" y="2105.1" width="0.7" height="27.2" fill="#d4d4d4"/>
<rect x="119.85" y="2137.7" width="0.7" height="27.2" fill="#d4d4d4"/>
<rect x="119.85" y="2170.3" width="0.7" height="27.2" fill="#d4d4d4"/>
<rect x="119.85" y="2203.0" width="0.7" height="27.2" fill="#d4d4d4"/>
<rect x="119.85" y="2235.7" width="0.7" height="27.2" fill="#d4d4d4"/>
<rect x="119.85" y="2268.3" width="0.7" height="27.2" fill="#d4d4d4"/>
<rect x="120.2" y="1288.8" width="352.3" height="27.2" fill="#FDE725"/>
<rect x="120.2" y="1288.8" width="345.2" height="27.2" fill="#8FD744"/>
<rect x="120.2" y="1288.8" width="136.4" height="27.2" fill="#35B779"/>
<rect x="120.2" y="1288.8" width="132.3" height="27.2" fill="#21908C"/>
<rect x="120.2" y="1288.8" width="126.4" height="27.2" fill="#31688E"/>
<rect x="120.2" y="1288.8" width="125.3" height="27.2" fill="#443A83"/>
<rect x="120.2" y="1288.8" width="120.8" height="27.2" fill="#440154"/>
<rect x="120.2" y="1321.5" width="252.2" height="27.2" fill="#FDE725"/>
<rect x="120.2" y="1321.5" width="243.9" height="27.2" fill="#35B779"/>
<rect x="120.2" y="1321.5" width="171.4" height="27.2" fill="#21908C"/>
<rect x="120.2" y="1321.5" width="165.0" height="27.2" fill="#31688E"/>
<rect x="120.2" y="1321.5" width="164.0" height="27.2" fill="#443A83"/>
<rect x="120.2" y="1321.5" width="162.9" height="27.2" fill="#440154"/>
<rect x="120.2" y="1354.1" width="82.5" height="27.2" fill="#FDE725"/>
<rect x="120.2" y="1354.1" width="77.0" height="27.2" fill="#8FD744"/>
<rect x="120.2" y="1354.1" width="56.6" height="27.2" fill="#35B779"/>
<rect x="120.2" y="1354.1" width="55.3" height="27.2" fill="#440154"/>
<rect x="120.2" y="1386.8" width="91.8" height="27.2" fill="#FDE725"/>
<rect x="120.2" y="1386.8" width="81.1" height="27.2" fill="#8FD744"/>
<rect x="120.2" y="1386.8" width="60.7" height="27.2" fill="#35B779"/>
<rect x="120.2" y="1386.8" width="56.1" height="27.2" fill="#21908C"/>
<rect x="120.2" y="1386.8" width="29.8" height="27.2" fill="#440154"/>
<rect x="120.2" y="1419.4" width="70.9" height="27.2" fill="#FDE725"/>
<rect x="120.2" y="1419.4" width="69.2" height="27.2" fill="#8FD744"/>
<rect x="120.2" y="1419.4" width="67.5" height="27.2" fill="#35B779"/>
<rect x="120.2" y="1419.4" width="66.8" height="27.2" fill="#21908C"/>
<rect x="120.2" y="1419.4" width="63.8" height="27.2" fill="#440154"/>
<rect x="120.2" y="1452.1" width="32.0" height="27.2" fill="#8FD744"/>
<rect x="120.2" y="1452.1" width="31.3" height="27.2" fill="#21908C"/>
<rect x="120.2" y="1452.1" width="27.7" height="27.2" fill="#440154"/>
<rect x="120.2" y="1484.7" width="36.8" height="27.2" fill="#440154"/>
<rect x="120.2" y="1517.4" width="33.4" height="27.2" fill="#21908C"/>
<rect x="120.2" y="1517.4" width="27.8" height="27.2" fill="#440154"/>
<rect x="120.2" y="1550.0" width="32.7" height="27.2" fill="#440154"/>
<rect x="120.2" y="1582.7" width="27.6" height="27.2" fill="#FDE725"/>
<rect x="120.2" y="1582.7" width="11.3" height="27.2" fill="#8FD744"/>
<rect x="120.2" y="1582.7" width="7.0" height="27.2" fill="#35B779"/>
<rect x="120.2" y="1582.7" width="5.7" height="27.2" fill="#440154"/>
<rect x="120.2" y="1615.3" width="20.6" height="27.2" fill="#8FD744"/>
<rect x="120.2" y="1615.3" width="20.0" height="27.2" fill="#440154"/>
<rect x="120.2" y="1648.0" width="13.5" height="27.2" fill="#FDE725"/>
<rect x="120.2" y="1648.0" width="10.4" height="27.2" fill="#8FD744"/>
<rect x="120.2" y="1648.0" width="5.3" height="27.2" fill="#35B779"/>
<rect x="120.2" y="1648.0" width="4.1" height="27.2" fill="#440154"/>
<rect x="120.2" y="1680.6" width="15.5" height="27.2" fill="#8FD744"/>
<rect x="120.2" y="1680.6" width="12.5" height="27.2" fill="#21908C"/>
<rect x="120.2" y="1680.6" width="5.6" height="27.2" fill="#440154"/>
<rect x="120.2" y="1713.3" width="14.7" height="27.2" fill="#8FD744"/>
<rect x="120.2" y="1713.3" width="11.8" height="27.2" fill="#21908C"/>
<rect x="120.2" y="1713.3" width="5.6" height="27.2" fill="#440154"/>
<rect x="120.2" y="1745.9" width="12.8" height="27.2" fill="#FDE725"/>
<rect x="120.2" y="1745.9" width="11.8" height="27.2" fill="#35B779"/>
<rect x="120.2" y="1778.6" width="14.9" height="27.2" fill="#FDE725"/>
<rect x="120.2" y="1778.6" width="10.5" height="27.2" fill="#440154"/>
<rect x="120.2" y="1811.2" width="10.9" height="27.2" fill="#440154"/>
<rect x="120.2" y="1843.9" width="9.7" height="27.2" fill="#21908C"/>
<rect x="120.2" y="1876.5" width="10.6" height="27.2" fill="#FDE725"/>
<rect x="120.2" y="1876.5" width="2.8" height="27.2" fill="#440154"/>
<rect x="120.2" y="1909.2" width="7.9" height="27.2" fill="#21908C"/>
<rect x="120.2" y="1909.2" width="5.3" height="27.2" fill="#443A83"/>
<rect x="120.2" y="1909.2" width="4.5" height="27.2" fill="#440154"/>
<rect x="120.2" y="1941.8" width="7.9" height="27.2" fill="#440154"/>
<rect x="120.2" y="1974.5" width="7.4" height="27.2" fill="#8FD744"/>
<rect x="120.2" y="1974.5" width="5.3" height="27.2" fill="#35B779"/>
<rect x="120.2" y="1974.5" width="2.7" height="27.2" fill="#31688E"/>
<rect x="120.2" y="2007.1" width="7.0" height="27.2" fill="#8FD744"/>
<rect x="120.2" y="2039.8" width="7.0" height="27.2" fill="#FDE725"/>
<rect x="120.2" y="2039.8" width="5.0" height="27.2" fill="#8FD744"/>
<rect x="120.2" y="2039.8" width="3.6" height="27.2" fill="#35B779"/>
<rect x="120.2" y="2072.4" width="5.6" height="27.2" fill="#FDE725"/>
<rect x="120.2" y="2072.4" width="5.0" height="27.2" fill="#440154"/>
<rect x="120.2" y="2105.1" width="5.6" height="27.2" fill="#440154"/>
<rect x="120.2" y="2137.7" width="13.5" height="27.2" fill="#8FD744"/>
<rect x="120.2" y="2137.7" width="4.5" height="27.2" fill="#440154"/>
<rect x="120.2" y="2170.3" width="4.1" height="27.2" fill="#FDE725"/>
<rect x="120.2" y="2203.0" width="3.6" height="27.2" fill="#440154"/>
<rect x="120.2" y="2235.7" width="3.3" height="27.2" fill="#440154"/>
<circle cx="1025.5" cy="1302.4" r="7.8" fill="none" stroke="#000" stroke-width="4.6"/>
<circle cx="656.0" cy="1335.1" r="7.8" fill="none" stroke="#000" stroke-width="4.6"/>
<circle cx="299.9" cy="1367.7" r="7.8" fill="none" stroke="#000" stroke-width="4.6"/>
<circle cx="328.8" cy="1400.4" r="7.8" fill="none" stroke="#000" stroke-width="4.6"/>
<circle cx="298.8" cy="1433.0" r="7.8" fill="none" stroke="#000" stroke-width="4.6"/>
<circle cx="187.5" cy="1465.7" r="7.8" fill="none" stroke="#000" stroke-width="4.6"/>
<circle cx="190.6" cy="1498.3" r="7.8" fill="none" stroke="#000" stroke-width="4.6"/>
<circle cx="185.0" cy="1531.0" r="7.8" fill="none" stroke="#000" stroke-width="4.6"/>
<circle cx="164.6" cy="1563.6" r="7.8" fill="none" stroke="#000" stroke-width="4.6"/>
<circle cx="193.4" cy="1596.2" r="7.8" fill="none" stroke="#000" stroke-width="4.6"/>
<circle cx="163.3" cy="1628.9" r="7.8" fill="none" stroke="#000" stroke-width="4.6"/>
<circle cx="158.5" cy="1661.6" r="7.8" fill="none" stroke="#000" stroke-width="4.6"/>
<circle cx="163.9" cy="1694.2" r="7.8" fill="none" stroke="#000" stroke-width="4.6"/>
<circle cx="145.1" cy="1726.9" r="7.8" fill="none" stroke="#000" stroke-width="4.6"/>
<circle cx="134.9" cy="1759.5" r="7.8" fill="none" stroke="#000" stroke-width="4.6"/>
<circle cx="145.9" cy="1792.2" r="7.8" fill="none" stroke="#000" stroke-width="4.6"/>
<circle cx="148.0" cy="1824.8" r="7.8" fill="none" stroke="#000" stroke-width="4.6"/>
<circle cx="140.5" cy="1857.5" r="7.8" fill="none" stroke="#000" stroke-width="4.6"/>
<circle cx="147.6" cy="1890.1" r="7.8" fill="none" stroke="#000" stroke-width="4.6"/>
<circle cx="149.7" cy="1922.8" r="7.8" fill="none" stroke="#000" stroke-width="4.6"/>
<circle cx="140.0" cy="1955.4" r="7.8" fill="none" stroke="#000" stroke-width="4.6"/>
<circle cx="154.4" cy="1988.1" r="7.8" fill="none" stroke="#000" stroke-width="4.6"/>
<circle cx="139.5" cy="2020.7" r="7.8" fill="none" stroke="#000" stroke-width="4.6"/>
<circle cx="138.1" cy="2053.3" r="7.8" fill="none" stroke="#000" stroke-width="4.6"/>
<circle cx="137.1" cy="2086.0" r="7.8" fill="none" stroke="#000" stroke-width="4.6"/>
<circle cx="132.8" cy="2118.7" r="7.8" fill="none" stroke="#000" stroke-width="4.6"/>
<circle cx="149.8" cy="2151.3" r="7.8" fill="none" stroke="#000" stroke-width="4.6"/>
<circle cx="128.1" cy="2183.9" r="7.8" fill="none" stroke="#000" stroke-width="4.6"/>
<circle cx="128.9" cy="2216.6" r="7.8" fill="none" stroke="#000" stroke-width="4.6"/>
<circle cx="127.6" cy="2249.2" r="7.8" fill="none" stroke="#000" stroke-width="4.6"/>
<circle cx="317.8" cy="2281.9" r="7.8" fill="none" stroke="#000" stroke-width="4.6"/>
<path d="M120.2 2357.0V2335.4H918.5V2357.0" fill="none" stroke="#000" stroke-width="2.9" stroke-linecap="square"/>
<text x="120.2" y="2411.0" text-anchor="middle">0.00</text>
<path d="M234.2 2335.4V2357.0" stroke="#000" stroke-width="2.9" stroke-linecap="square"/>
<text x="234.2" y="2411.0" text-anchor="middle">0.05</text>
<path d="M348.3 2335.4V2357.0" stroke="#000" stroke-width="2.9" stroke-linecap="square"/>
<text x="348.3" y="2411.0" text-anchor="middle">0.10</text>
<path d="M462.4 2335.4V2357.0" stroke="#000" stroke-width="2.9" stroke-linecap="square"/>
<text x="462.4" y="2411.0" text-anchor="middle">0.15</text>
<path d="M576.4 2335.4V2357.0" stroke="#000" stroke-width="2.9" stroke-linecap="square"/>
<text x="576.4" y="2411.0" text-anchor="middle">0.20</text>
<path d="M690.5 2335.4V2357.0" stroke="#000" stroke-width="2.9" stroke-linecap="square"/>
<text x="690.5" y="2411.0" text-anchor="middle">0.25</text>
<path d="M804.5 2335.4V2357.0" stroke="#000" stroke-width="2.9" stroke-linecap="square"/>
<text x="804.5" y="2411.0" text-anchor="middle">0.30</text>
<text x="918.6" y="2411.0" text-anchor="middle">0.35</text>
<text x="565.5" y="2451.2" text-anchor="middle" style="font-size:37px">USD trillion</text>
<text x="1056.0" y="1261.0" style="font-size:38px;font-weight:bold">d</text>
<text x="1622.3" y="1273.5" style="font-size:41.5px" text-anchor="middle">Stage 4: Ultimate owner loss</text>
<text x="1134.7" y="1314.1" text-anchor="end" style="font-size:32.7px">USA</text>
<text x="1134.7" y="1346.8" text-anchor="end" style="font-size:32.7px">Russia</text>
<text x="1134.7" y="1379.4" text-anchor="end" style="font-size:32.7px">Canada</text>
<text x="1134.7" y="1412.1" text-anchor="end" style="font-size:32.7px">United Kingdom</text>
<text x="1134.7" y="1444.7" text-anchor="end" style="font-size:32.7px">China</text>
<text x="1134.7" y="1477.4" text-anchor="end" style="font-size:32.7px">Norway</text>
<text x="1134.7" y="1510.0" text-anchor="end" style="font-size:32.7px">Mexico</text>
<text x="1134.7" y="1542.7" text-anchor="end" style="font-size:32.7px">Brazil</text>
<text x="1134.7" y="1575.3" text-anchor="end" style="font-size:32.7px">Hong Kong</text>
<text x="1134.7" y="1608.0" text-anchor="end" style="font-size:32.7px">France</text>
<text x="1134.7" y="1640.6" text-anchor="end" style="font-size:32.7px">India</text>
<text x="1134.7" y="1673.3" text-anchor="end" style="font-size:32.7px">Japan</text>
<text x="1134.7" y="1705.9" text-anchor="end" style="font-size:32.7px">Australia</text>
<text x="1134.7" y="1738.6" text-anchor="end" style="font-size:32.7px">Germany</text>
<text x="1134.7" y="1771.2" text-anchor="end" style="font-size:32.7px">Luxembourg</text>
<text x="1134.7" y="1803.9" text-anchor="end" style="font-size:32.7px">Nigeria</text>
<text x="1134.7" y="1836.5" text-anchor="end" style="font-size:32.7px">Indonesia</text>
<text x="1134.7" y="1869.2" text-anchor="end" style="font-size:32.7px">Kazakhstan</text>
<text x="1134.7" y="1901.8" text-anchor="end" style="font-size:32.7px">Malaysia</text>
<text x="1134.7" y="1934.5" text-anchor="end" style="font-size:32.7px">Italy</text>
<text x="1134.7" y="1967.1" text-anchor="end" style="font-size:32.7px">Turkmenistan</text>
<text x="1134.7" y="1999.8" text-anchor="end" style="font-size:32.7px">Netherlands</text>
<text x="1134.7" y="2032.4" text-anchor="end" style="font-size:32.7px">Switzerland</text>
<text x="1134.7" y="2065.0" text-anchor="end" style="font-size:32.7px">Ukraine</text>
<text x="1134.7" y="2097.7" text-anchor="end" style="font-size:32.7px">Argentina</text>
<text x="1134.7" y="2130.3" text-anchor="end" style="font-size:32.7px">Ecuador</text>
<text x="1134.7" y="2163.0" text-anchor="end" style="font-size:32.7px">Bermuda</text>
<text x="1134.7" y="2195.6" text-anchor="end" style="font-size:32.7px">Oman</text>
<text x="1134.7" y="2228.3" text-anchor="end" style="font-size:32.7px">Colombia</text>
<text x="1134.7" y="2260.9" text-anchor="end" style="font-size:32.7px">Cuba</text>
<text x="1134.7" y="2293.6" text-anchor="end" style="font-size:32.7px">(ROW gains net)</text>
<rect x="1176.85" y="1288.8" width="0.7" height="27.2" fill="#d4d4d4"/>
<rect x="1176.85" y="1321.5" width="0.7" height="27.2" fill="#d4d4d4"/>
<rect x="1176.85" y="1354.1" width="0.7" height="27.2" fill="#d4d4d4"/>
<rect x="1176.85" y="1386.8" width="0.7" height="27.2" fill="#d4d4d4"/>
<rect x="1176.85" y="1419.4" width="0.7" height="27.2" fill="#d4d4d4"/>
<rect x="1176.85" y="1452.1" width="0.7" height="27.2" fill="#d4d4d4"/>
<rect x="1176.85" y="1484.7" width="0.7" height="27.2" fill="#d4d4d4"/>
<rect x="1176.85" y="1517.4" width="0.7" height="27.2" fill="#d4d4d4"/>
<rect x="1176.85" y="1550.0" width="0.7" height="27.2" fill="#d4d4d4"/>
<rect x="1176.85" y="1582.7" width="0.7" height="27.2" fill="#d4d4d4"/>
<rect x="1176.85" y="1615.3" width="0.7" height="27.2" fill="#d4d4d4"/>
<rect x="1176.85" y="1648.0" width="0.7" height="27.2" fill="#d4d4d4"/>
<rect x="1176.85" y="1680.6" width="0.7" height="27.2" fill="#d4d4d4"/>
<rect x="1176.85" y="1713.3" width="0.7" height="27.2" fill="#d4d4d4"/>
<rect x="1176.85" y="1745.9" width="0.7" height="27.2" fill="#d4d4d4"/>
<rect x="1176.85" y="1778.6" width="0.7" height="27.2" fill="#d4d4d4"/>
<rect x="1176.85" y="1811.2" width="0.7" height="27.2" fill="#d4d4d4"/>
<rect x="1176.85" y="1843.9" width="0.7" height="27.2" fill="#d4d4d4"/>
<rect x="1176.85" y="1876.5" width="0.7" height="27.2" fill="#d4d4d4"/>
<rect x="1176.85" y="1909.2" width="0.7" height="27.2" fill="#d4d4d4"/>
<rect x="1176.85" y="1941.8" width="0.7" height="27.2" fill="#d4d4d4"/>
<rect x="1176.85" y="1974.5" width="0.7" height="27.2" fill="#d4d4d4"/>
<rect x="1176.85" y="2007.1" width="0.7" height="27.2" fill="#d4d4d4"/>
<rect x="1176.85" y="2039.8" width="0.7" height="27.2" fill="#d4d4d4"/>
<rect x="1176.85" y="2072.4" width="0.7" height="27.2" fill="#d4d4d4"/>
<rect x="1176.85" y="2105.1" width="0.7" height="27.2" fill="#d4d4d4"/>
<rect x="1176.85" y="2137.7" width="0.7" height="27.2" fill="#d4d4d4"/>
<rect x="1176.85" y="2170.3" width="0.7" height="27.2" fill="#d4d4d4"/>
<rect x="1176.85" y="2203.0" width="0.7" height="27.2" fill="#d4d4d4"/>
<rect x="1176.85" y="2235.7" width="0.7" height="27.2" fill="#d4d4d4"/>
<rect x="1176.85" y="2268.3" width="0.7" height="27.2" fill="#d4d4d4"/>
<rect x="1177.2" y="1288.8" width="318.5" height="27.2" fill="#FCA50A"/>
<rect x="1177.2" y="1288.8" width="196.9" height="27.2" fill="#932667"/>
<rect x="1177.2" y="1288.8" width="19.5" height="27.2" fill="#420A68"/>
<rect x="1177.2" y="1288.8" width="14.7" height="27.2" fill="#000004"/>
<rect x="1177.2" y="1321.5" width="231.0" height="27.2" fill="#FCA50A"/>
<rect x="1177.2" y="1321.5" width="127.5" height="27.2" fill="#DD513A"/>
<rect x="1177.2" y="1321.5" width="125.3" height="27.2" fill="#932667"/>
<rect x="1177.2" y="1321.5" width="124.1" height="27.2" fill="#420A68"/>
<rect x="1177.2" y="1321.5" width="114.7" height="27.2" fill="#000004"/>
<rect x="1177.2" y="1354.1" width="84.1" height="27.2" fill="#FCA50A"/>
<rect x="1177.2" y="1354.1" width="28.9" height="27.2" fill="#932667"/>
<rect x="1177.2" y="1354.1" width="7.0" height="27.2" fill="#420A68"/>
<rect x="1177.2" y="1354.1" width="4.2" height="27.2" fill="#000004"/>
<rect x="1177.2" y="1386.8" width="83.3" height="27.2" fill="#FCA50A"/>
<rect x="1177.2" y="1386.8" width="33.4" height="27.2" fill="#DD513A"/>
<rect x="1177.2" y="1386.8" width="16.7" height="27.2" fill="#932667"/>
<rect x="1177.2" y="1386.8" width="1.2" height="27.2" fill="#420A68"/>
<rect x="1177.2" y="1386.8" width="0.6" height="27.2" fill="#000004"/>
<rect x="1177.2" y="1419.4" width="81.9" height="27.2" fill="#FCA50A"/>
<rect x="1177.2" y="1419.4" width="71.6" height="27.2" fill="#DD513A"/>
<rect x="1177.2" y="1419.4" width="70.8" height="27.2" fill="#932667"/>
<rect x="1177.2" y="1419.4" width="59.8" height="27.2" fill="#000004"/>
<rect x="1177.2" y="1452.1" width="41.0" height="27.2" fill="#FCA50A"/>
<rect x="1177.2" y="1452.1" width="22.8" height="27.2" fill="#DD513A"/>
<rect x="1177.2" y="1452.1" width="21.5" height="27.2" fill="#000004"/>
<rect x="1177.2" y="1484.7" width="37.3" height="27.2" fill="#000004"/>
<rect x="1177.2" y="1517.4" width="33.9" height="27.2" fill="#FCA50A"/>
<rect x="1177.2" y="1517.4" width="24.0" height="27.2" fill="#000004"/>
<rect x="1177.2" y="1550.0" width="32.6" height="27.2" fill="#FCA50A"/>
<rect x="1177.2" y="1582.7" width="29.1" height="27.2" fill="#FCA50A"/>
<rect x="1177.2" y="1582.7" width="8.6" height="27.2" fill="#932667"/>
<rect x="1177.2" y="1615.3" width="22.9" height="27.2" fill="#DD513A"/>
<rect x="1177.2" y="1615.3" width="21.2" height="27.2" fill="#932667"/>
<rect x="1177.2" y="1615.3" width="18.9" height="27.2" fill="#000004"/>
<rect x="1177.2" y="1648.0" width="18.0" height="27.2" fill="#FCA50A"/>
<rect x="1177.2" y="1648.0" width="12.7" height="27.2" fill="#932667"/>
<rect x="1177.2" y="1648.0" width="2.5" height="27.2" fill="#420A68"/>
<rect x="1177.2" y="1648.0" width="1.8" height="27.2" fill="#000004"/>
<rect x="1177.2" y="1680.6" width="17.5" height="27.2" fill="#FCA50A"/>
<rect x="1177.2" y="1680.6" width="8.3" height="27.2" fill="#DD513A"/>
<rect x="1177.2" y="1680.6" width="4.1" height="27.2" fill="#932667"/>
<rect x="1177.2" y="1713.3" width="17.3" height="27.2" fill="#FCA50A"/>
<rect x="1177.2" y="1713.3" width="4.9" height="27.2" fill="#932667"/>
<rect x="1177.2" y="1745.9" width="16.0" height="27.2" fill="#FCA50A"/>
<rect x="1177.2" y="1745.9" width="12.0" height="27.2" fill="#DD513A"/>
<rect x="1177.2" y="1778.6" width="14.9" height="27.2" fill="#FCA50A"/>
<rect x="1177.2" y="1778.6" width="12.3" height="27.2" fill="#000004"/>
<rect x="1177.2" y="1811.2" width="10.5" height="27.2" fill="#420A68"/>
<rect x="1177.2" y="1811.2" width="9.7" height="27.2" fill="#000004"/>
<rect x="1177.2" y="1843.9" width="10.5" height="27.2" fill="#FCA50A"/>
<rect x="1177.2" y="1843.9" width="8.6" height="27.2" fill="#000004"/>
<rect x="1177.2" y="1876.5" width="10.5" height="27.2" fill="#FCA50A"/>
<rect x="1177.2" y="1909.2" width="9.5" height="27.2" fill="#FCA50A"/>
<rect x="1177.2" y="1909.2" width="4.6" height="27.2" fill="#DD513A"/>
<rect x="1177.2" y="1909.2" width="3.8" height="27.2" fill="#932667"/>
<rect x="1177.2" y="1909.2" width="2.4" height="27.2" fill="#420A68"/>
<rect x="1177.2" y="1909.2" width="1.8" height="27.2" fill="#000004"/>
<rect x="1177.2" y="1941.8" width="7.9" height="27.2" fill="#000004"/>
<rect x="1177.2" y="1974.5" width="8.0" height="27.2" fill="#FCA50A"/>
<rect x="1177.2" y="1974.5" width="4.9" height="27.2" fill="#DD513A"/>
<rect x="1177.2" y="1974.5" width="4.0" height="27.2" fill="#932667"/>
<rect x="1177.2" y="1974.5" width="2.9" height="27.2" fill="#420A68"/>
<rect x="1177.2" y="1974.5" width="2.2" height="27.2" fill="#000004"/>
<rect x="1177.2" y="2007.1" width="7.5" height="27.2" fill="#932667"/>
<rect x="1177.2" y="2039.8" width="6.3" height="27.2" fill="#000004"/>
<rect x="1177.2" y="2072.4" width="6.1" height="27.2" fill="#FCA50A"/>
<rect x="1177.2" y="2072.4" width="4.6" height="27.2" fill="#000004"/>
<rect x="1177.2" y="2105.1" width="5.8" height="27.2" fill="#000004"/>
<rect x="1177.2" y="2137.7" width="4.6" height="27.2" fill="#FCA50A"/>
<rect x="1177.2" y="2170.3" width="4.4" height="27.2" fill="#000004"/>
<rect x="1177.2" y="2203.0" width="4.2" height="27.2" fill="#000004"/>
<rect x="1177.2" y="2235.7" width="3.9" height="27.2" fill="#000004"/>
<circle cx="2004.2" cy="1302.4" r="7.8" fill="none" stroke="#000" stroke-width="4.6"/>
<circle cx="1681.3" cy="1335.1" r="7.8" fill="none" stroke="#000" stroke-width="4.6"/>
<circle cx="1362.5" cy="1367.7" r="7.8" fill="none" stroke="#000" stroke-width="4.6"/>
<circle cx="1367.3" cy="1400.4" r="7.8" fill="none" stroke="#000" stroke-width="4.6"/>
<circle cx="1381.2" cy="1433.0" r="7.8" fill="none" stroke="#000" stroke-width="4.6"/>
<circle cx="1265.8" cy="1465.7" r="7.8" fill="none" stroke="#000" stroke-width="4.6"/>
<circle cx="1248.6" cy="1498.3" r="7.8" fill="none" stroke="#000" stroke-width="4.6"/>
<circle cx="1242.8" cy="1531.0" r="7.8" fill="none" stroke="#000" stroke-width="4.6"/>
<circle cx="1222.1" cy="1563.6" r="7.8" fill="none" stroke="#000" stroke-width="4.6"/>
<circle cx="1254.2" cy="1596.2" r="7.8" fill="none" stroke="#000" stroke-width="4.6"/>
<circle cx="1224.8" cy="1628.9" r="7.8" fill="none" stroke="#000" stroke-width="4.6"/>
<circle cx="1225.6" cy="1661.6" r="7.8" fill="none" stroke="#000" stroke-width="4.6"/>
<circle cx="1223.6" cy="1694.2" r="7.8" fill="none" stroke="#000" stroke-width="4.6"/>
<circle cx="1207.1" cy="1726.9" r="7.8" fill="none" stroke="#000" stroke-width="4.6"/>
<circle cx="1192.0" cy="1759.5" r="7.8" fill="none" stroke="#000" stroke-width="4.6"/>
<circle cx="1203.0" cy="1792.2" r="7.8" fill="none" stroke="#000" stroke-width="4.6"/>
<circle cx="1205.8" cy="1824.8" r="7.8" fill="none" stroke="#000" stroke-width="4.6"/>
<circle cx="1197.6" cy="1857.5" r="7.8" fill="none" stroke="#000" stroke-width="4.6"/>
<circle cx="1204.7" cy="1890.1" r="7.8" fill="none" stroke="#000" stroke-width="4.6"/>
<circle cx="1209.8" cy="1922.8" r="7.8" fill="none" stroke="#000" stroke-width="4.6"/>
<circle cx="1196.9" cy="1955.4" r="7.8" fill="none" stroke="#000" stroke-width="4.6"/>
<circle cx="1212.7" cy="1988.1" r="7.8" fill="none" stroke="#000" stroke-width="4.6"/>
<circle cx="1197.4" cy="2020.7" r="7.8" fill="none" stroke="#000" stroke-width="4.6"/>
<circle cx="1195.2" cy="2053.3" r="7.8" fill="none" stroke="#000" stroke-width="4.6"/>
<circle cx="1194.9" cy="2086.0" r="7.8" fill="none" stroke="#000" stroke-width="4.6"/>
<circle cx="1190.3" cy="2118.7" r="7.8" fill="none" stroke="#000" stroke-width="4.6"/>
<circle cx="1187.7" cy="2151.3" r="7.8" fill="none" stroke="#000" stroke-width="4.6"/>
<circle cx="1185.5" cy="2183.9" r="7.8" fill="none" stroke="#000" stroke-width="4.6"/>
<circle cx="1186.4" cy="2216.6" r="7.8" fill="none" stroke="#000" stroke-width="4.6"/>
<circle cx="1185.0" cy="2249.2" r="7.8" fill="none" stroke="#000" stroke-width="4.6"/>
<circle cx="1384.0" cy="2281.9" r="7.8" fill="none" stroke="#000" stroke-width="4.6"/>
<path d="M1177.2 2357.0V2335.4H1975.5V2357.0" fill="none" stroke="#000" stroke-width="2.9" stroke-linecap="square"/>
<text x="1177.2" y="2411.0" text-anchor="middle">0.00</text>
<path d="M1291.2 2335.4V2357.0" stroke="#000" stroke-width="2.9" stroke-linecap="square"/>
<text x="1291.2" y="2411.0" text-anchor="middle">0.05</text>
<path d="M1405.3 2335.4V2357.0" stroke="#000" stroke-width="2.9" stroke-linecap="square"/>
<text x="1405.3" y="2411.0" text-anchor="middle">0.10</text>
<path d="M1519.4 2335.4V2357.0" stroke="#000" stroke-width="2.9" stroke-linecap="square"/>
<text x="1519.4" y="2411.0" text-anchor="middle">0.15</text>
<path d="M1633.4 2335.4V2357.0" stroke="#000" stroke-width="2.9" stroke-linecap="square"/>
<text x="1633.4" y="2411.0" text-anchor="middle">0.20</text>
<path d="M1747.5 2335.4V2357.0" stroke="#000" stroke-width="2.9" stroke-linecap="square"/>
<text x="1747.5" y="2411.0" text-anchor="middle">0.25</text>
<path d="M1861.5 2335.4V2357.0" stroke="#000" stroke-width="2.9" stroke-linecap="square"/>
<text x="1861.5" y="2411.0" text-anchor="middle">0.30</text>
<text x="1975.6" y="2411.0" text-anchor="middle">0.35</text>
<text x="1622.3" y="2451.2" text-anchor="middle" style="font-size:37px">USD trillion</text>
<rect x="396.5" y="522.4" width="31.4" height="31.2" fill="#3B528B"/>
<text x="446.6" y="549.8">Oil assets</text>
<rect x="396.5" y="564.1" width="31.4" height="31.2" fill="#5DC863"/>
<text x="446.6" y="591.5">Gas assets</text>
<circle cx="412.2" cy="622.1" r="7.8" fill="none" stroke="#000" stroke-width="4.6"/>
<text x="446.6" y="633.0">InvE_EUEA−SO Stage 1</text>
<rect x="1636.5" y="501.1" width="31.4" height="31.2" fill="#ED6925"/>
<text x="1686.6" y="528.5">Listed companies</text>
<rect x="1636.5" y="542.9" width="31.4" height="31.2" fill="#781C6D"/>
<text x="1686.6" y="570.2">Unlisted companies</text>
<circle cx="1652.2" cy="600.8" r="7.8" fill="none" stroke="#000" stroke-width="4.6"/>
<text x="1686.6" y="611.7">InvE_EUEA−SO Stage 2</text>
<rect x="396.5" y="1647.0" width="31.4" height="31.2" fill="#440154"/>
<text x="446.6" y="1674.4">Oil &amp; gas</text>
<rect x="396.5" y="1688.8" width="31.4" height="31.2" fill="#443A83"/>
<text x="446.6" y="1716.1">Utilities</text>
<rect x="396.5" y="1730.5" width="31.4" height="31.2" fill="#31688E"/>
<text x="446.6" y="1757.9">Manufacturing (no chemicals)</text>
<rect x="396.5" y="1772.2" width="31.4" height="31.2" fill="#21908C"/>
<text x="446.6" y="1799.6">Finance &amp; Insurance</text>
<rect x="396.5" y="1814.0" width="31.4" height="31.2" fill="#35B779"/>
<text x="446.6" y="1841.4">Professional Services</text>
<rect x="396.5" y="1855.8" width="31.4" height="31.2" fill="#8FD744"/>
<text x="446.6" y="1883.1">Funds</text>
<rect x="396.5" y="1897.5" width="31.4" height="31.2" fill="#FDE725"/>
<text x="446.6" y="1924.9">Other</text>
<circle cx="412.2" cy="1955.4" r="7.8" fill="none" stroke="#000" stroke-width="4.6"/>
<text x="446.6" y="1966.3">InvE_EUEA−SO Stage 3</text>
<rect x="1636.5" y="1671.9" width="31.4" height="31.2" fill="#000004"/>
<text x="1686.6" y="1699.3">Government</text>
<rect x="1636.5" y="1713.7" width="31.4" height="31.2" fill="#420A68"/>
<text x="1686.6" y="1741.0">Individuals</text>
<rect x="1636.5" y="1755.4" width="31.4" height="31.2" fill="#932667"/>
<text x="1686.6" y="1782.8">Fund owners</text>
<rect x="1636.5" y="1797.2" width="31.4" height="31.2" fill="#DD513A"/>
<text x="1686.6" y="1824.5">Creditors</text>
<rect x="1636.5" y="1838.9" width="31.4" height="31.2" fill="#FCA50A"/>
<text x="1686.6" y="1866.3">Unknown</text>
<circle cx="1652.2" cy="1896.8" r="7.8" fill="none" stroke="#000" stroke-width="4.6"/>
<text x="1686.6" y="1907.8">InvE_EUEA−SO Stage 4</text>
<rect x="1504.1" y="1019.1" width="563.4" height="82.7" fill="#fff" stroke="#000" stroke-width="2.9"/>
<text x="1535.4" y="1071.7">Bar length reflects TDT_EUEA−SO</text>
</svg>
</body></html>
